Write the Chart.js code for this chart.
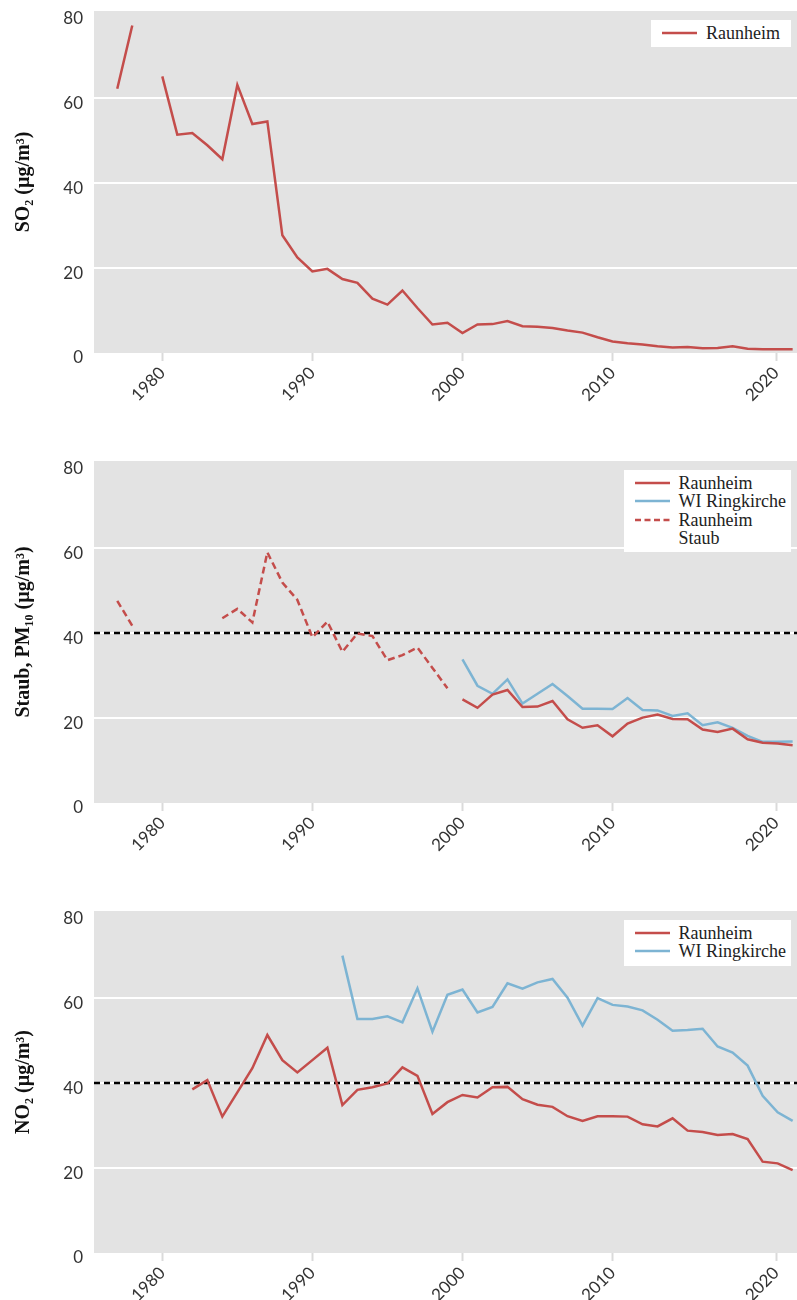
<!DOCTYPE html>
<html>
<head>
<meta charset="utf-8">
<script src="https://cdn.jsdelivr.net/npm/chart.js@4.4.1/dist/chart.umd.min.js"></script>
<style>
html, body { margin: 0; padding: 0; background: #fff; overflow: hidden; }
.panel { position: relative; width: 797px; height: 450px; }
.legend {
    position: absolute; top: 20px; right: 6px; background: #fff;
    padding: 4px 5px 5px 11px;
    font-family: "Liberation Serif", serif; font-size: 18px; line-height: 18.3px; color: #222;
}
.legend .row { display: flex; align-items: flex-start; }
.legend svg { width: 35px; height: 18px; margin-right: 9px; flex: none; }
</style>
</head>
<body>
<div class="panel"><canvas id="so2" width="797" height="450"></canvas><div class="legend" id="legend-so2"></div></div>
<div class="panel"><canvas id="pm10" width="797" height="450"></canvas><div class="legend" id="legend-pm10"></div></div>
<div class="panel"><canvas id="no2" width="797" height="450"></canvas><div class="legend" id="legend-no2"></div></div>
<script>
const years = [1977, 1978, 1979, 1980, 1981, 1982, 1983, 1984, 1985, 1986,
    1987, 1988, 1989, 1990, 1991, 1992, 1993, 1994, 1995, 1996,
    1997, 1998, 1999, 2000, 2001, 2002, 2003, 2004, 2005, 2006,
    2007, 2008, 2009, 2010, 2011, 2012, 2013, 2014, 2015, 2016,
    2017, 2018, 2019, 2020, 2021, 2022];

const so2Raunheim = [62.2, 77.1, null, 65.1, 51.4, 51.8, 48.9, 45.6, 63.1, 53.9,
    54.5, 27.7, 22.5, 19.2, 19.8, 17.4, 16.5, 12.8, 11.4, 14.7,
    10.6, 6.7, 7.1, 4.7, 6.7, 6.8, 7.5, 6.3, 6.2, 5.9,
    5.3, 4.8, 3.7, 2.7, 2.3, 2.0, 1.6, 1.3, 1.4, 1.1,
    1.2, 1.6, 1.0, 0.9, 0.9, 0.9];

const pm10RaunheimStaub = [47.6, 41.7, null, null, null, null, null, 43.5, 45.7, 42.5,
    59.0, 51.9, 47.8, 39.0, 42.7, 35.6, 39.9, 39.3, 33.6, 34.8,
    36.6, 31.8, 27.0, null, null, null, null, null, null, null,
    null, null, null, null, null, null, null, null, null, null,
    null, null, null, null, null, null];

const pm10Raunheim = [null, null, null, null, null, null, null, null, null, null,
    null, null, null, null, null, null, null, null, null, null,
    null, null, null, 24.4, 22.4, 25.5, 26.6, 22.6, 22.7, 24.0,
    19.7, 17.7, 18.3, 15.7, 18.7, 20.1, 20.8, 19.8, 19.7, 17.3,
    16.7, 17.5, 15.0, 14.2, 14.0, 13.6];

const pm10Ringkirche = [null, null, null, null, null, null, null, null, null, null,
    null, null, null, null, null, null, null, null, null, null,
    null, null, null, 33.8, 27.6, 25.7, 29.1, 23.4, 25.7, 28.0,
    25.2, 22.2, 22.2, 22.1, 24.7, 21.9, 21.8, 20.5, 21.1, 18.3,
    19.0, 17.7, 15.8, 14.4, 14.4, 14.5];

const no2Raunheim = [null, null, null, null, null, 38.5, 40.7, 32.1, 37.8, 43.5,
    51.3, 45.4, 42.5, 45.4, 48.3, 34.8, 38.4, 39.0, 39.9, 43.7,
    41.7, 32.7, 35.5, 37.2, 36.6, 39.0, 39.1, 36.2, 34.9, 34.4,
    32.2, 31.1, 32.2, 32.2, 32.1, 30.3, 29.8, 31.7, 28.8, 28.5,
    27.8, 28.0, 26.8, 21.5, 21.1, 19.5];

const no2Ringkirche = [null, null, null, null, null, null, null, null, null, null,
    null, null, null, null, null, 70.0, 55.1, 55.1, 55.7, 54.3,
    62.3, 52.1, 60.8, 62.0, 56.6, 57.9, 63.5, 62.2, 63.7, 64.5,
    60.1, 53.5, 60.0, 58.4, 58.0, 57.1, 54.9, 52.3, 52.5, 52.8,
    48.6, 47.2, 44.1, 37.0, 33.1, 31.1];

const limitValue = 40;

// tick positions as they sit in the original picture
const xTickValues = [1980, 1990, 2000, 2010, 2020.9];
const xTickLabels = ["1980", "1990", "2000", "2010", "2020"];
const yTickValues = [0, 20, 40, 60, 80];

const xMin = 1975.45;
const xMax = 2022.29;

const RED = "#c44d4b";
const BLUE = "#7db4d3";

function series(values) {
    return years.map((year, i) => ({ x: year, y: values[i] }));
}

function lineSet(label, values, color, dash) {
    return {
        label: label,
        data: series(values),
        borderColor: color,
        borderWidth: 2.5,
        borderDash: dash || [],
        pointRadius: 0,
        fill: false,
        tension: 0,
        spanGaps: false
    };
}

function limitSet() {
    return {
        label: "Grenzwert",
        data: [{ x: xMin, y: limitValue }, { x: xMax, y: limitValue }],
        borderColor: "#000",
        borderWidth: 2.5,
        borderDash: [6, 4],
        pointRadius: 0,
        fill: false
    };
}

const plotBackground = {
    id: "plotBackground",
    beforeDraw(chart) {
        const { ctx, chartArea } = chart;
        ctx.save();
        ctx.fillStyle = "#e3e3e3";
        ctx.fillRect(chartArea.left, chartArea.top, chartArea.right - chartArea.left, chartArea.bottom - chartArea.top);
        ctx.restore();
    }
};

function makeChart(canvasId, datasets, yTitle) {
    const ctx = document.getElementById(canvasId).getContext("2d");
    return new Chart(ctx, {
        type: "line",
        data: { datasets: datasets },
        plugins: [plotBackground],
        options: {
            responsive: false,
            animation: false,
            devicePixelRatio: 1,
            layout: { padding: { top: 11, left: 0, right: 0, bottom: 0 } },
            plugins: { legend: { display: false }, tooltip: { enabled: false } },
            scales: {
                x: {
                    type: "linear",
                    min: xMin,
                    max: xMax,
                    afterBuildTicks: scale => { scale.ticks = xTickValues.map(v => ({ value: v })); },
                    afterFit: scale => { scale.height = 97; },
                    border: { display: false },
                    grid: {
                        drawOnChartArea: false,
                        drawTicks: true,
                        tickLength: 8,
                        tickWidth: 2,
                        tickColor: "#dadada"
                    },
                    ticks: {
                        autoSkip: false,
                        minRotation: 45,
                        maxRotation: 45,
                        padding: 2,
                        color: "#333",
                        font: { family: "Lato", size: 17 },
                        callback: (value, index) => xTickLabels[index]
                    }
                },
                y: {
                    min: 0,
                    max: 80.5,
                    afterBuildTicks: scale => { scale.ticks = yTickValues.map(v => ({ value: v })); },
                    afterFit: scale => {
                        scale.width = 94;
                        scale.paddingTop = 0;
                        scale.paddingBottom = 0;
                    },
                    border: { display: false },
                    grid: {
                        drawTicks: false,
                        lineWidth: 2,
                        color: c => (c.tick && c.tick.value > 0 && c.tick.value < 80) ? "#ffffff" : "rgba(0,0,0,0)"
                    },
                    ticks: {
                        padding: 11,
                        labelOffset: 5,
                        color: "#333",
                        font: { family: "Lato", size: 17 }
                    },
                    title: {
                        display: true,
                        text: yTitle,
                        color: "#111",
                        padding: { top: 12, bottom: 0 },
                        font: { family: "Liberation Serif", size: 20, weight: "bold" }
                    }
                }
            }
        }
    });
}

function sample(color, dash) {
    const d = dash ? ' stroke-dasharray="6 3.5"' : "";
    return '<svg viewBox="0 0 35 18"><line x1="0" y1="9" x2="35" y2="9" stroke="' + color +
        '" stroke-width="2.5"' + d + '/></svg>';
}

function buildLegend(id, items) {
    const box = document.getElementById(id);
    box.innerHTML = items.map(it =>
        '<div class="row">' + sample(it.color, it.dash) + "<span>" + it.text + "</span></div>"
    ).join("");
}

makeChart("so2", [
    lineSet("Raunheim", so2Raunheim, RED)
], "SO\u2082 (µg/m³)");

makeChart("pm10", [
    lineSet("Raunheim", pm10Raunheim, RED),
    lineSet("WI Ringkirche", pm10Ringkirche, BLUE),
    lineSet("Raunheim Staub", pm10RaunheimStaub, RED, [7, 4]),
    limitSet()
], "Staub, PM\u2081\u2080 (µg/m³)");

makeChart("no2", [
    lineSet("Raunheim", no2Raunheim, RED),
    lineSet("WI Ringkirche", no2Ringkirche, BLUE),
    limitSet()
], "NO\u2082 (µg/m³)");

buildLegend("legend-so2", [
    { text: "Raunheim", color: RED }
]);
buildLegend("legend-pm10", [
    { text: "Raunheim", color: RED },
    { text: "WI Ringkirche", color: BLUE },
    { text: "Raunheim<br>Staub", color: RED, dash: true }
]);
buildLegend("legend-no2", [
    { text: "Raunheim", color: RED },
    { text: "WI Ringkirche", color: BLUE }
]);

document.getElementById("legend-so2").style.paddingRight = "11px";
</script>
</body>
</html>
